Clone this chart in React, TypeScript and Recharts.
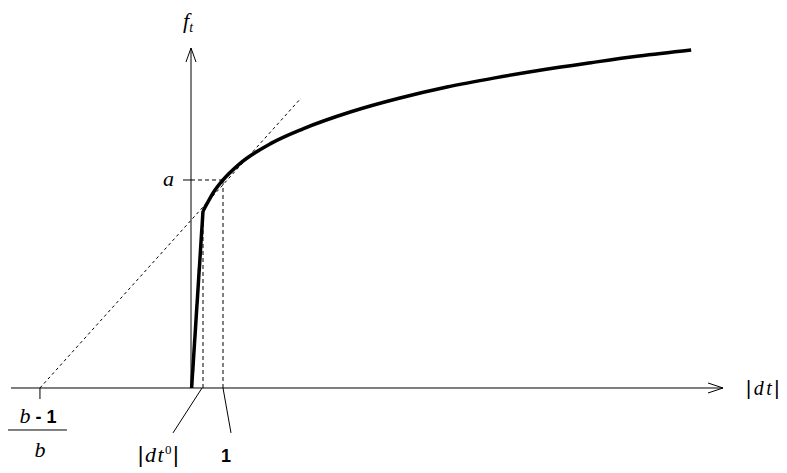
import React from 'react';
import { ComposedChart, Line, XAxis, YAxis, ReferenceLine, ReferenceDot } from 'recharts';

// ---- data (x in |dt| units, y in f_t units, a = 1) ----
const xRange = [-5.625, 16.625];
const yRange = [-0.4087, 1.6346];

const steepPart = [
  { x: 0.02, y: 0 },
  { x: 0.375, y: 0.85 },
];

const concavePart = [
  { x: 0.375, y: 0.85 },
  { x: 0.5, y: 0.886 },
  { x: 0.7, y: 0.94 },
  { x: 1.0, y: 1.0 },
  { x: 1.5, y: 1.075 },
  { x: 2.5, y: 1.176 },
  { x: 3.5, y: 1.246 },
  { x: 5.0, y: 1.328 },
  { x: 6.5, y: 1.393 },
  { x: 8.0, y: 1.447 },
  { x: 9.5, y: 1.491 },
  { x: 11.0, y: 1.53 },
  { x: 12.5, y: 1.564 },
  { x: 14.0, y: 1.596 },
  { x: 15.63, y: 1.625 },
];

const dt0 = 0.375;
const dt0Level = 0.85;
const one = 1;
const aLevel = 1;
const interceptX = -4.72; // (b-1)/b
const tangentEnd = { x: 3.44, y: 1.394 };
const axisTopY = 1.6346;
const leaderLowY = -0.216;
const leader1End = -0.5625;
const leader2End = 1.25;
const tickLowY = -0.053;
const aTickLeft = -0.25;

const SERIF = 'Liberation Serif';
const SANS = 'Liberation Sans';
const INK = '#000';

const serifIt: React.CSSProperties = { fontFamily: SERIF, fontStyle: 'italic', fill: INK };
const bar: React.CSSProperties = { fontFamily: SANS, fontStyle: 'normal', fontWeight: 400, fill: INK };
const sansBold: React.CSSProperties = { fontFamily: SANS, fontStyle: 'normal', fontWeight: 700, fill: INK };

const ArrowRight = (p: any) => {
  const { x1, y1, x2, y2 } = p;
  return (
    <g>
      <line x1={x1} y1={y1} x2={x2} y2={y2} stroke={INK} strokeWidth={1} />
      <polyline points={`${x2 - 15},${y2 - 5} ${x2},${y2} ${x2 - 15},${y2 + 5}`} fill="none" stroke={INK} strokeWidth={1} />
    </g>
  );
};

const ArrowUp = (p: any) => {
  const { x1, y1, x2, y2 } = p;
  return (
    <g>
      <line x1={x1} y1={y1} x2={x2} y2={y2} stroke={INK} strokeWidth={1} />
      <polyline points={`${x2 - 5},${y2 + 14} ${x2},${y2} ${x2 + 5},${y2 + 14}`} fill="none" stroke={INK} strokeWidth={1} />
    </g>
  );
};

const FtLabel = (p: any) => (
  <text x={p.cx - 8} y={p.cy - 20} style={{ ...serifIt, fontSize: 22 }}>
    f<tspan style={{ fontSize: 14 }} dy={4}>t</tspan>
  </text>
);

const ALabel = (p: any) => (
  <text x={p.cx - 17} y={p.cy + 6} textAnchor="end" style={{ ...serifIt, fontSize: 22 }}>
    a
  </text>
);

const DtLabel = (p: any) => (
  <text x={p.cx + 23} y={p.cy + 7} style={{ fontSize: 20, letterSpacing: 2.5, fill: INK }}>
    <tspan style={bar}>|</tspan>
    <tspan style={serifIt}>dt</tspan>
    <tspan style={bar}>|</tspan>
  </text>
);

const FracLabel = (p: any) => (
  <g>
    <text x={p.cx - 2} y={p.cy + 35} textAnchor="middle" style={{ fill: INK }}>
      <tspan style={{ ...serifIt, fontSize: 22 }}>b</tspan>
      <tspan style={{ ...sansBold, fontSize: 18 }}> - 1</tspan>
    </text>
    <line x1={p.cx - 32} y1={p.cy + 42} x2={p.cx + 27} y2={p.cy + 42} stroke={INK} strokeWidth={1} />
    <text x={p.cx} y={p.cy + 69} textAnchor="middle" style={{ ...serifIt, fontSize: 22 }}>
      b
    </text>
  </g>
);

const Dt0Label = (p: any) => (
  <text x={p.cx - 14} y={p.cy + 29} textAnchor="middle" style={{ fontSize: 22, letterSpacing: 1.5, fill: INK }}>
    <tspan style={bar}>|</tspan>
    <tspan style={serifIt}>dt</tspan>
    <tspan style={{ fontFamily: SERIF, fontSize: 13, fill: INK }} dy={-8}>0</tspan>
    <tspan style={bar} dy={8}>|</tspan>
  </text>
);

const OneLabel = (p: any) => (
  <text x={p.cx - 5} y={p.cy + 29} textAnchor="middle" style={{ ...sansBold, fontSize: 18 }}>
    1
  </text>
);

export default function App() {
  return (
    <div style={{ position: 'absolute', left: 0, top: 0, background: '#fff' }}>
      <ComposedChart width={787} height={473} margin={{ top: 48, right: 64, bottom: 0, left: 11 }}>
        <XAxis type="number" dataKey="x" domain={xRange} allowDataOverflow hide />
        <YAxis type="number" dataKey="y" domain={yRange} allowDataOverflow hide />

        {/* axes with arrows */}
        <ReferenceLine ifOverflow="visible" segment={[{ x: xRange[0], y: 0 }, { x: xRange[1], y: 0 }]} shape={ArrowRight} />
        <ReferenceLine ifOverflow="visible" segment={[{ x: 0, y: 0 }, { x: 0, y: axisTopY }]} shape={ArrowUp} />

        {/* dashed guides */}
        <ReferenceLine ifOverflow="visible" segment={[{ x: interceptX, y: 0 }, tangentEnd]} stroke={INK} strokeWidth={1} strokeDasharray="3 3" />
        <ReferenceLine ifOverflow="visible" segment={[{ x: 0, y: aLevel }, { x: one, y: aLevel }]} stroke={INK} strokeWidth={1} strokeDasharray="4 3" />
        <ReferenceLine ifOverflow="visible" segment={[{ x: aTickLeft, y: aLevel }, { x: 0, y: aLevel }]} stroke={INK} strokeWidth={1} />
        <ReferenceLine ifOverflow="visible" segment={[{ x: one, y: 0 }, { x: one, y: aLevel }]} stroke={INK} strokeWidth={1} strokeDasharray="4 3" />
        <ReferenceLine ifOverflow="visible" segment={[{ x: dt0, y: 0 }, { x: dt0, y: dt0Level }]} stroke={INK} strokeWidth={1} strokeDasharray="4 3" />

        {/* tick and leader lines */}
        <ReferenceLine ifOverflow="visible" segment={[{ x: interceptX, y: 0 }, { x: interceptX, y: tickLowY }]} stroke={INK} strokeWidth={1} />
        <ReferenceLine ifOverflow="visible" segment={[{ x: 0.344, y: 0 }, { x: leader1End, y: leaderLowY }]} stroke={INK} strokeWidth={1} />
        <ReferenceLine ifOverflow="visible" segment={[{ x: one, y: 0 }, { x: leader2End, y: leaderLowY }]} stroke={INK} strokeWidth={1} />

        {/* the curve */}
        <Line data={steepPart} dataKey="y" type="linear" stroke={INK} strokeWidth={3.5} dot={false} activeDot={false} isAnimationActive={false} />
        <Line data={concavePart} dataKey="y" type="monotone" stroke={INK} strokeWidth={3.5} dot={false} activeDot={false} isAnimationActive={false} />

        {/* labels */}
        <ReferenceDot ifOverflow="visible" x={0} y={axisTopY} r={1} shape={FtLabel} />
        <ReferenceDot ifOverflow="visible" x={0} y={aLevel} r={1} shape={ALabel} />
        <ReferenceDot ifOverflow="visible" x={xRange[1]} y={0} r={1} shape={DtLabel} />
        <ReferenceDot ifOverflow="visible" x={interceptX} y={0} r={1} shape={FracLabel} />
        <ReferenceDot ifOverflow="visible" x={leader1End} y={leaderLowY} r={1} shape={Dt0Label} />
        <ReferenceDot ifOverflow="visible" x={leader2End} y={leaderLowY} r={1} shape={OneLabel} />
      </ComposedChart>
    </div>
  );
}
